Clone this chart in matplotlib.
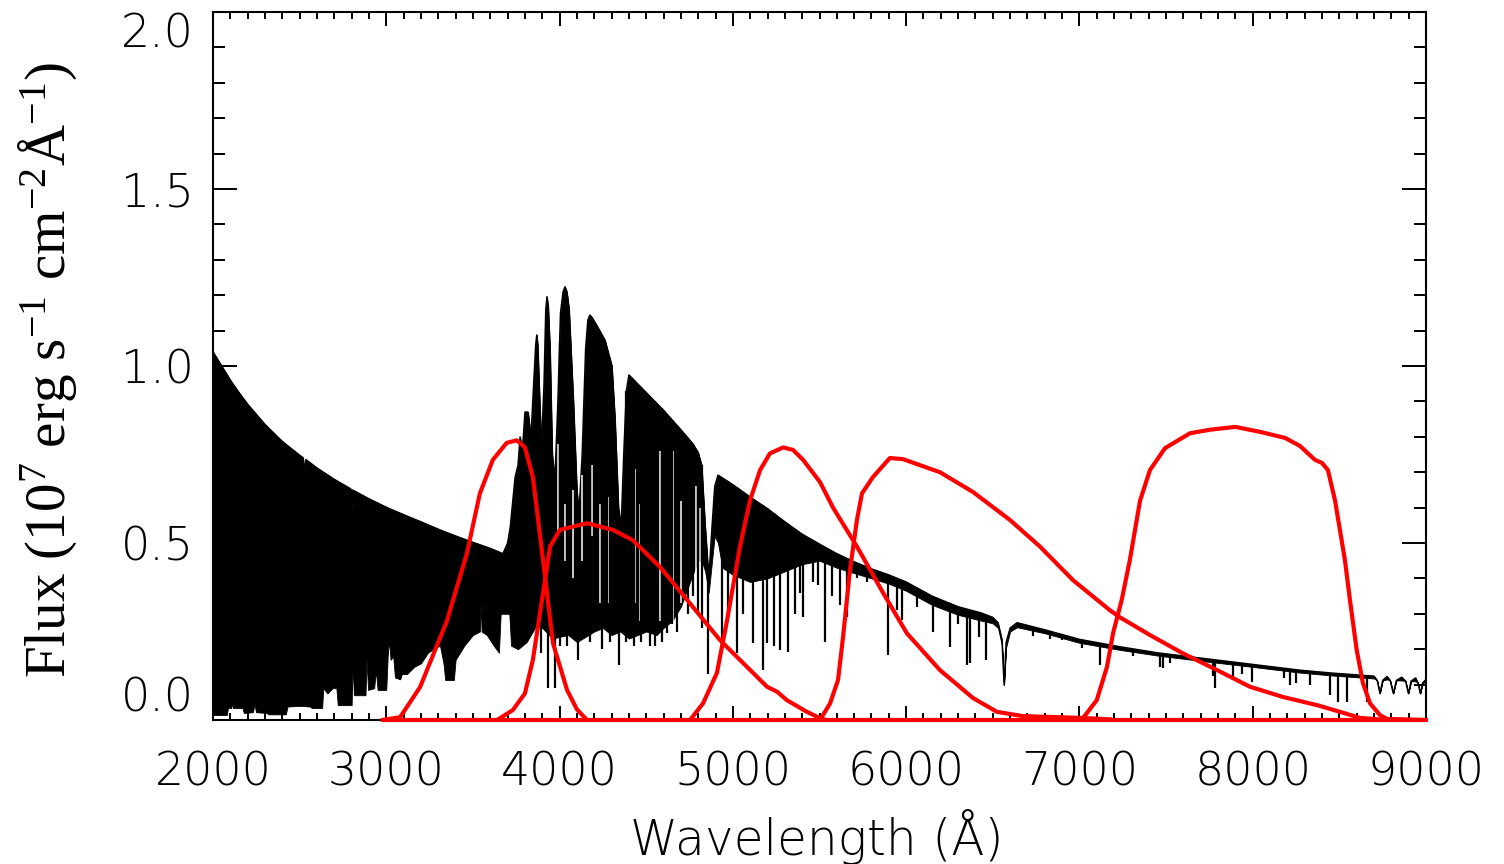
import numpy as np
import matplotlib
matplotlib.use('Agg')
import matplotlib.pyplot as plt
from matplotlib.ticker import MultipleLocator

# ---------------- data ----------------
# upper envelope (continuum) of the stellar spectrum
top_wl = [2000, 2050, 2100, 2150, 2200, 2300, 2400, 2500, 2520, 2528, 2536, 2600, 2700,
          2795, 2800, 2805, 2900, 3000, 3100, 3200, 3300, 3400, 3500, 3600, 3673, 3700,
          3715, 3743, 3760, 3772, 3785, 3800, 3818, 3835, 3850, 3862, 3868, 3874, 3882,
          3895, 3910, 3920, 3927, 3934, 3945, 3958, 3973, 3990, 4005, 4020, 4031, 4042,
          4055, 4080, 4100, 4112, 4130, 4150, 4163, 4175, 4190, 4220, 4262, 4302, 4320,
          4340, 4355, 4370, 4385, 4400, 4500, 4600, 4700, 4770, 4800, 4820, 4840, 4861,
          4880, 4895, 4914, 5000, 5100, 5200, 5300, 5400, 5500, 5600, 5700, 5800, 5900,
          6000, 6150, 6300, 6430, 6500, 6530, 6553, 6565, 6577, 6600, 6640, 6800, 7000,
          7234, 7450, 7700, 8000, 8270, 8450, 8620, 8700, 8718, 8734, 8750, 8775, 8793,
          8811, 8829, 8860, 8882, 8898, 8914, 8940, 8953, 8967, 8981, 9000]
top_flux = [1.04, 1.0, 0.96, 0.925, 0.892, 0.835, 0.787, 0.748, 0.741, 0.70, 0.736, 0.712, 0.68,
            0.653, 0.595, 0.650, 0.625, 0.601, 0.58, 0.56, 0.539, 0.52, 0.502, 0.485, 0.47, 0.50,
            0.545, 0.686, 0.72, 0.80, 0.76, 0.87, 0.87, 0.80, 0.95, 1.06, 1.088, 1.06, 0.95,
            0.77, 0.95, 1.16, 1.196, 1.17, 1.05, 0.75, 0.68, 0.90, 1.15, 1.21, 1.224, 1.21,
            1.16, 0.90, 0.65, 0.585, 0.75, 1.05, 1.13, 1.144, 1.135, 1.11, 1.073, 1.0, 0.85,
            0.60, 0.545, 0.75, 0.93, 0.975, 0.925, 0.875, 0.82, 0.78, 0.755, 0.72, 0.55, 0.40,
            0.55, 0.66, 0.692, 0.665, 0.63, 0.597, 0.56, 0.525, 0.497, 0.47, 0.447, 0.427, 0.41,
            0.39, 0.35, 0.32, 0.303, 0.29, 0.275, 0.226, 0.099, 0.22, 0.26, 0.275, 0.255, 0.228,
            0.207, 0.19, 0.175, 0.157, 0.141, 0.133, 0.127, 0.124, 0.112, 0.075, 0.112, 0.123, 0.112,
            0.075, 0.112, 0.121, 0.11, 0.075, 0.11, 0.119, 0.105, 0.075, 0.105, 0.115]

# lower edge of the solid (line-blanketed) part of the spectrum
bot_wl = [2000, 2080, 2086, 2105, 2110, 2115, 2170, 2178, 2230, 2240, 2248, 2310, 2320,
          2420, 2430, 2500, 2560, 2570, 2630, 2636, 2660, 2690, 2712, 2720, 2800, 2806,
          2813, 2880, 2886, 2895, 2930, 2940, 2950, 3000, 3008, 3015, 3025, 3040, 3050,
          3080, 3090, 3120, 3160, 3200, 3240, 3270, 3310, 3330, 3340, 3390, 3400, 3450,
          3500, 3540, 3545, 3550, 3580, 3620, 3650, 3660, 3710, 3720, 3760, 3810, 3870,
          3900, 3960, 4000, 4050, 4100, 4150, 4200, 4250, 4300, 4350, 4400, 4450, 4500,
          4560, 4600, 4650, 4700, 4760, 4800, 4820, 4840, 4861, 4880, 4895, 4914, 4940,
          5000, 5100, 5200, 5300, 5400, 5500, 5600, 5700, 5800, 5900, 6000, 6150, 6300,
          6430, 6500, 6530, 6553, 6565, 6577, 6600, 6640, 6800, 7000, 7234, 7450, 7700,
          8000, 8270, 8450, 8620, 9000]
bot_flux = [0.014, 0.014, 0.034, 0.034, 0.048, 0.034, 0.034, 0.02, 0.022, 0.045, 0.022, 0.02, 0.016,
            0.016, 0.038, 0.04, 0.038, 0.034, 0.034, 0.09, 0.075, 0.09, 0.09, 0.042, 0.042, 0.16,
            0.07, 0.07, 0.17, 0.085, 0.09, 0.14, 0.085, 0.085, 0.18, 0.225, 0.17, 0.18, 0.12,
            0.115, 0.13, 0.13, 0.15, 0.16, 0.19, 0.20, 0.21, 0.16, 0.113, 0.113, 0.17, 0.21,
            0.24, 0.25, 0.33, 0.25, 0.24, 0.21, 0.19, 0.30, 0.30, 0.21, 0.20, 0.22, 0.27,
            0.26, 0.23, 0.235, 0.24, 0.22, 0.235, 0.25, 0.26, 0.24, 0.25, 0.23, 0.24, 0.25,
            0.24, 0.26, 0.28, 0.32, 0.40, 0.45, 0.45, 0.42, 0.36, 0.45, 0.52, 0.50, 0.43,
            0.41, 0.39, 0.40, 0.42, 0.44, 0.45, 0.43, 0.415, 0.40, 0.385, 0.365, 0.325, 0.297,
            0.281, 0.273, 0.26, 0.21, 0.099, 0.205, 0.25, 0.262, 0.245, 0.218, 0.198, 0.182, 0.167,
            0.15, 0.134, 0.126, 0.12, 0.107]

# individual absorption lines reaching below the solid part (wavelength, minimum flux)
line_wl = [3786, 3893, 3934, 3973, 4000, 4045, 4107, 4175, 4245, 4290, 4343, 4385, 4430,
           4470, 4520, 4550, 4590, 4618, 4650, 4680, 4722, 4740, 4770, 4800, 4820, 4857,
           4937, 4972, 5022, 5060, 5116, 5172, 5195, 5235, 5270, 5318, 5358, 5387, 5405,
           5463, 5490, 5532, 5570, 5618, 5658, 5716, 5775, 5897, 5946, 5975, 6065, 6155,
           6253, 6300, 6352, 6370, 6421, 6462, 6731, 6830, 6900, 7015, 7118, 7175, 7310,
           7465, 7483, 7521, 7770, 7783, 7887, 7940, 7994, 8180, 8213, 8250, 8328, 8446,
           8492, 8544, 8659]
line_min = [0.22, 0.19, 0.09, 0.09, 0.21, 0.21, 0.17, 0.22, 0.20, 0.22, 0.155, 0.22, 0.21,
            0.22, 0.21, 0.21, 0.22, 0.245, 0.27, 0.25, 0.42, 0.30, 0.35, 0.30, 0.26, 0.13,
            0.198, 0.30, 0.19, 0.30, 0.217, 0.14, 0.217, 0.21, 0.198, 0.193, 0.30, 0.36, 0.29,
            0.39, 0.38, 0.22, 0.35, 0.325, 0.29, 0.40, 0.39, 0.183, 0.31, 0.282, 0.32, 0.248,
            0.207, 0.27, 0.155, 0.16, 0.235, 0.17, 0.237, 0.23, 0.225, 0.203, 0.155, 0.19, 0.18,
            0.15, 0.147, 0.16, 0.125, 0.09, 0.113, 0.13, 0.107, 0.12, 0.099, 0.104, 0.099, 0.071,
            0.051, 0.051, 0.05]

# unblanketed windows (white streaks) inside the blended line forest
gap_wl = [3993, 4031, 4079, 4127, 4185, 4233, 4287, 4435, 4464, 4522, 4580, 4618, 4656,
          4700, 4740, 4785, 4810]
gap_lo = [0.52, 0.45, 0.40, 0.45, 0.52, 0.33, 0.33, 0.33, 0.28, 0.33, 0.28, 0.25, 0.24,
          0.33, 0.30, 0.30, 0.33]
gap_hi = [0.78, 0.61, 0.65, 0.71, 0.72, 0.61, 0.63, 0.71, 0.61, 0.66, 0.76, 0.78, 0.76,
          0.62, 0.65, 0.66, 0.60]

# filter transmission curves (scaled)
u_wl = [2980, 3080, 3195, 3350, 3465, 3540, 3615, 3695, 3753, 3800, 3846, 3905, 3962, 4043, 4100, 4158]
u_t = [0, 0.008, 0.093, 0.28, 0.47, 0.64, 0.735, 0.783, 0.79, 0.77, 0.686, 0.45, 0.217, 0.085, 0.03, 0]
g_wl = [3640, 3730, 3800, 3846, 3905, 3945, 4002, 4158, 4308, 4423, 4580, 4735, 4925, 5197, 5255,
        5312, 5420, 5503, 5540]
g_t = [0, 0.028, 0.075, 0.17, 0.36, 0.49, 0.537, 0.556, 0.537, 0.508, 0.432, 0.34, 0.226, 0.094,
       0.08, 0.056, 0.025, 0.005, 0]
r_wl = [4753, 4828, 4908, 4966, 5041, 5099, 5157, 5214, 5290, 5347, 5405, 5503, 5578, 5716, 5866,
        6004, 6195, 6386, 6524, 6674, 7003, 7176]
r_t = [0, 0.047, 0.133, 0.28, 0.49, 0.62, 0.706, 0.753, 0.77, 0.763, 0.735, 0.672, 0.60, 0.49, 0.36,
       0.245, 0.141, 0.062, 0.023, 0.011, 0.006, 0.002]
i_wl = [5503, 5561, 5607, 5636, 5676, 5716, 5745, 5808, 5906, 5981, 6195, 6386, 6599, 6772, 6963,
        7176, 7234, 7407, 7598, 7794, 7984, 8175, 8371, 8504, 8619, 8775]
i_t = [0, 0.047, 0.113, 0.235, 0.424, 0.565, 0.64, 0.686, 0.74, 0.737, 0.70, 0.644, 0.565, 0.49,
       0.395, 0.31, 0.29, 0.24, 0.188, 0.141, 0.094, 0.065, 0.042, 0.023, 0.006, 0]
z_wl = [6830, 7020, 7100, 7159, 7194, 7244, 7291, 7350, 7407, 7494, 7638, 7753, 7900, 8042, 8186,
        8273, 8359, 8400, 8434, 8475, 8532, 8561, 8600, 8636, 8677, 8734, 8775, 9000]
z_t = [0, 0.005, 0.056, 0.15, 0.245, 0.339, 0.452, 0.62, 0.706, 0.768, 0.81, 0.82, 0.828, 0.814,
       0.797, 0.774, 0.735, 0.726, 0.706, 0.62, 0.452, 0.339, 0.198, 0.104, 0.047, 0.014, 0.003, 0]

x_ticks = [2000, 3000, 4000, 5000, 6000, 7000, 8000, 9000]
y_ticks = [0.0, 0.5, 1.0, 1.5, 2.0]
y_ticklabels = ['0.0', '0.5', '1.0', '1.5', '2.0']

# ---------------- figure ----------------
plt.rcParams['mathtext.fontset'] = 'custom'
plt.rcParams['mathtext.rm'] = 'Liberation Serif'
plt.rcParams['mathtext.it'] = 'Liberation Serif:italic'
plt.rcParams['mathtext.bf'] = 'Liberation Serif:bold'

fig = plt.figure(figsize=(15.04, 8.64), dpi=100)
ax = fig.add_axes([213 / 1504, 1 - 720 / 864, (1426 - 213) / 1504, (720 - 12) / 864])
ax.set_xlim(2000, 9000)
ax.set_ylim(0, 2.0)

# spectrum
grid = np.union1d(top_wl, bot_wl)
ft = np.interp(grid, top_wl, top_flux)
fb = np.minimum(np.interp(grid, bot_wl, bot_flux), ft)
ax.fill_between(grid, fb, ft, color='black', lw=0.6, zorder=2)
ax.plot(grid, ft, color='black', lw=1.0, zorder=2)
gap_top = np.minimum(gap_hi, np.interp(gap_wl, top_wl, top_flux) - 0.03)
ax.vlines(gap_wl, gap_lo, gap_top, color='white', lw=1.1, zorder=2.1)
ax.vlines(line_wl, line_min, np.interp(line_wl, top_wl, top_flux), color='black', lw=1.6, zorder=2.2)

# filter curves
red = '#ff0000'
for wl, t in [(u_wl, u_t), (g_wl, g_t), (r_wl, r_t), (i_wl, i_t), (z_wl, z_t)]:
    ax.plot(wl, t, color=red, lw=3.0, zorder=3, solid_joinstyle='round')
ax.plot([u_wl[0], 9000], [0, 0], color=red, lw=3.0, zorder=4, clip_on=False)

# axes styling
for s in ax.spines.values():
    s.set_linewidth(1.5)
ax.xaxis.set_major_locator(MultipleLocator(1000))
ax.xaxis.set_minor_locator(MultipleLocator(100))
ax.yaxis.set_major_locator(MultipleLocator(0.5))
ax.yaxis.set_minor_locator(MultipleLocator(0.1))
ax.tick_params(axis='both', which='both', direction='in', top=True, right=True, width=1.4)
ax.tick_params(axis='x', which='major', length=10, pad=22)
ax.tick_params(axis='x', which='minor', length=5)
ax.tick_params(axis='y', which='major', length=17, pad=14)
ax.tick_params(axis='y', which='minor', length=8.5)

tick_font = dict(family='DejaVu Sans', weight='light')
ax.set_xticks(x_ticks)
ax.set_xticklabels([str(v) for v in x_ticks], fontsize=33, **tick_font)
ax.set_yticks(y_ticks)
ylabs = ax.set_yticklabels(y_ticklabels, fontsize=33, **tick_font)
ylabs[0].set_va('bottom')
ylabs[-1].set_va('top')

fig.text(48 / 1504, 1 - 370 / 864,
         'Flux (10$^{7}$ erg s$^{-1}$ cm$^{-2}$Å$^{-1}$)',
         rotation=90, ha='center', va='center', fontsize=41, family='Liberation Serif')
fig.text(817 / 1504, 1 - 837 / 864, 'Wavelength (Å)', ha='center', va='center',
         fontsize=35, **tick_font)

fig.savefig('out.png', dpi=100)
